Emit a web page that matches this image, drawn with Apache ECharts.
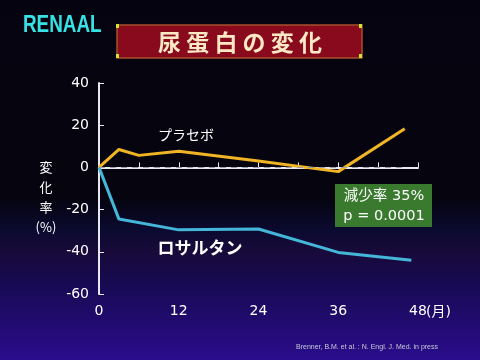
<!DOCTYPE html>
<html><head><meta charset="utf-8">
<script src="https://cdn.jsdelivr.net/npm/echarts@6/dist/echarts.min.js"></script>
<style>html,body{margin:0;padding:0;background:#05030f}#c{width:480px;height:360px}</style>
</head><body><div id="c"></div>
<script>
const months = [0, 12, 24, 36, 48];
const yTicks = [-60, -40, -20, 0, 20, 40];
const placeboX = [0, 3, 6, 12, 24, 36, 46];
const placeboY = [0, 8.5, 5.7, 7.7, 3, -2, 18.3];
const losartanX = [0, 3, 12, 24, 36, 47];
const losartanY = [0, -24.5, -29.6, -29.2, -40.3, -44];
const placeboName = 'プラセボ';
const losartanName = 'ロサルタン';
const titleText = '尿 蛋 白 の 変 化';
const studyName = 'RENAAL';
const yTitle = ['変', '化', '率', '(%)'];
const boxLines = ['減少率 35%', 'p = 0.0001'];
const footnote = 'Brenner, B.M. et al. : N. Engl. J. Med. in press';

const jp = '"Noto Sans CJK JP", "Noto Sans", sans-serif';
const num = '"DejaVu Sans", "Noto Sans CJK JP", sans-serif';
const chart = echarts.init(document.getElementById('c'));
const zip = (xs, ys) => xs.map((x, i) => [x, ys[i]]);

chart.setOption({
  backgroundColor: {
    type: 'linear', x: 0, y: 0, x2: 0, y2: 1,
    colorStops: [
      { offset: 0, color: '#05030f' },
      { offset: 0.55, color: '#05040f' },
      { offset: 0.64, color: '#0b0a30' },
      { offset: 0.70, color: '#180a3a' },
      { offset: 0.78, color: '#170a50' },
      { offset: 1, color: '#2a0c8c' }
    ]
  },
  animation: false,
  grid: { left: 99, right: 62, top: 83, bottom: 66 },
  xAxis: {
    type: 'value', min: 0, max: 48, interval: 6,
    axisLine: { lineStyle: { color: '#e8e8f0', width: 2 } },
    axisTick: { inside: true, length: 5, lineStyle: { color: '#e8e8f0', width: 1 } },
    splitLine: { show: false },
    axisLabel: {
      color: '#ffffff', fontSize: 14, fontFamily: num, margin: 10,
      formatter: v => months.includes(v) ? String(v) : ''
    }
  },
  yAxis: {
    type: 'value', min: yTicks[0], max: yTicks[yTicks.length - 1], interval: 20,
    axisLine: { show: true, lineStyle: { color: '#e8e8f0', width: 2 } },
    axisTick: { show: true, inside: true, length: 5, lineStyle: { color: '#e8e8f0', width: 1 } },
    splitLine: { show: false },
    axisLabel: { color: '#ffffff', fontSize: 14, fontFamily: num, margin: 10,
      formatter: v => (v < 0 ? '-' + Math.abs(v) : String(v)) }
  },
  series: [
    {
      name: placeboName, type: 'line', data: zip(placeboX, placeboY),
      symbol: 'none', lineStyle: { color: '#f0b424', width: 3 },
      markLine: {
        silent: true, symbol: 'none', label: { show: false },
        lineStyle: { color: '#9a9aa8', type: [6, 5], width: 1 },
        data: [[{ coord: [0, 0] }, { coord: [46, 0] }]]
      },
      z: 3
    },
    {
      name: losartanName, type: 'line', data: zip(losartanX, losartanY),
      symbol: 'none', lineStyle: { color: '#44b6d8', width: 3 }, z: 3
    }
  ],
  graphic: [
    { type: 'text', x: 23, y: 26, scaleX: 0.82, style: { text: studyName, fill: '#36e2e4', font: 'bold 23px "Liberation Sans", Arial, sans-serif', textVerticalAlign: 'middle' } },
    { type: 'rect', shape: { x: 117, y: 25, width: 245, height: 33 }, style: { fill: '#880a1c', stroke: '#a8502c', lineWidth: 1.5 } },
    { type: 'rect', shape: { x: 116, y: 24, width: 3, height: 4 }, style: { fill: '#c8e830' } },
    { type: 'rect', shape: { x: 359, y: 24, width: 3, height: 4 }, style: { fill: '#c8e830' } },
    { type: 'rect', shape: { x: 116, y: 54, width: 3, height: 4 }, style: { fill: '#c8e830' } },
    { type: 'rect', shape: { x: 359, y: 54, width: 3, height: 4 }, style: { fill: '#c8e830' } },
    { type: 'text', x: 240, y: 42, style: { text: titleText, fill: '#fbe8c4', font: 'bold 23px ' + jp, textAlign: 'center', textVerticalAlign: 'middle' } },
    { type: 'text', x: 186, y: 135, style: { text: placeboName, fill: '#ffffff', font: '14px ' + jp, textAlign: 'center', textVerticalAlign: 'middle' } },
    { type: 'text', x: 200, y: 248, style: { text: losartanName, fill: '#ffffff', font: 'bold 17px ' + jp, textAlign: 'center', textVerticalAlign: 'middle' } },
    { type: 'text', x: 46, y: 167, style: { text: yTitle[0], fill: '#ffffff', font: '13px ' + jp, textAlign: 'center', textVerticalAlign: 'middle' } },
    { type: 'text', x: 46, y: 187, style: { text: yTitle[1], fill: '#ffffff', font: '13px ' + jp, textAlign: 'center', textVerticalAlign: 'middle' } },
    { type: 'text', x: 46, y: 207, style: { text: yTitle[2], fill: '#ffffff', font: '13px ' + jp, textAlign: 'center', textVerticalAlign: 'middle' } },
    { type: 'text', x: 46, y: 227, style: { text: yTitle[3], fill: '#ffffff', font: '13px ' + jp, textAlign: 'center', textVerticalAlign: 'middle' } },
    { type: 'rect', shape: { x: 335, y: 184, width: 97, height: 43 }, style: { fill: '#3a7a2e' } },
    { type: 'text', x: 384, y: 196, style: { text: boxLines[0], fill: '#ffffff', font: '14.5px ' + num, textAlign: 'center', textVerticalAlign: 'middle' } },
    { type: 'text', x: 384, y: 216, style: { text: boxLines[1], fill: '#ffffff', font: '14.5px ' + num, textAlign: 'center', textVerticalAlign: 'middle' } },
    { type: 'text', x: 426, y: 312, style: { text: '(月)', fill: '#ffffff', font: '14px ' + num, textAlign: 'left', textVerticalAlign: 'middle' } },
    { type: 'text', x: 438, y: 347, style: { text: footnote, fill: '#c8c8d8', font: '7px "Liberation Sans", sans-serif', textAlign: 'right', textVerticalAlign: 'middle' } }
  ]
});
</script></body></html>
